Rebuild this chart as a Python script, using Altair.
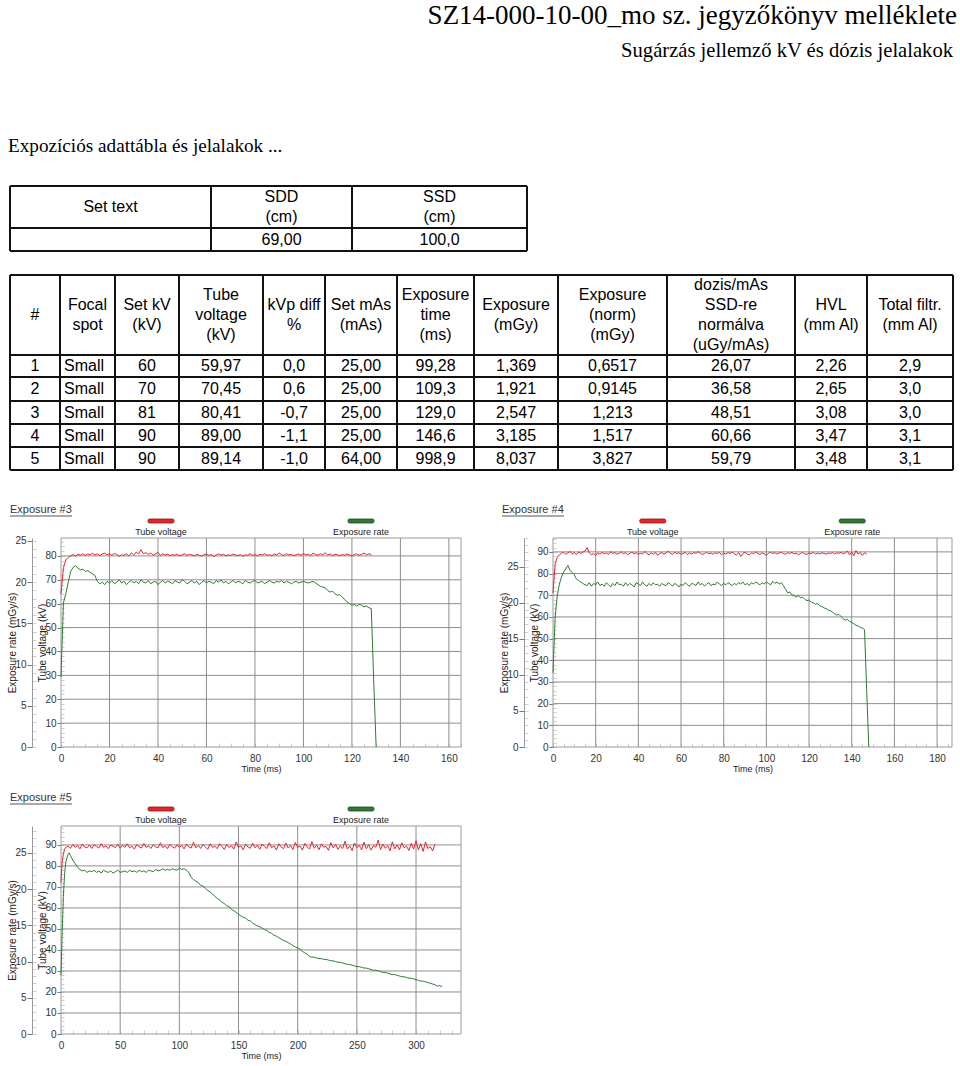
import altair as alt
import pandas as pd

# ============================ DATA ============================
DOC_TITLE = "SZ14-000-10-00_mo sz. jegyzőkönyv melléklete"
DOC_SUBTITLE = "Sugárzás jellemző kV és dózis jelalakok"
SECTION_TITLE = "Expozíciós adattábla és jelalakok ..."

# table 1
T1_HEADERS = ["Set text", "SDD\n(cm)", "SSD\n(cm)"]
T1_ROW = ["", "69,00", "100,0"]

# table 2
T2_HEADERS = ["#", "Focal\nspot", "Set kV\n(kV)", "Tube\nvoltage\n(kV)", "kVp diff\n%",
              "Set mAs\n(mAs)", "Exposure\ntime\n(ms)", "Exposure\n(mGy)",
              "Exposure\n(norm)\n(mGy)", "dozis/mAs\nSSD-re\nnormálva\n(uGy/mAs)",
              "HVL\n(mm Al)", "Total filtr.\n(mm Al)"]
NUM = ["1", "2", "3", "4", "5"]
FOCAL = ["Small", "Small", "Small", "Small", "Small"]
SET_KV = ["60", "70", "81", "90", "90"]
TUBE_KV = ["59,97", "70,45", "80,41", "89,00", "89,14"]
KVP_DIFF = ["0,0", "0,6", "-0,7", "-1,1", "-1,0"]
SET_MAS = ["25,00", "25,00", "25,00", "25,00", "64,00"]
EXP_TIME = ["99,28", "109,3", "129,0", "146,6", "998,9"]
EXPOSURE = ["1,369", "1,921", "2,547", "3,185", "8,037"]
EXP_NORM = ["0,6517", "0,9145", "1,213", "1,517", "3,827"]
DOSE_MAS = ["26,07", "36,58", "48,51", "60,66", "59,79"]
HVL = ["2,26", "2,65", "3,08", "3,47", "3,48"]
TOTAL_FILT = ["2,9", "3,0", "3,0", "3,1", "3,1"]

# exposure #3 traces (time in ms)
E3_KV_TIME = list(range(0, 129))
E3_KV = [64.0, 75.0, 78.3, 79.4, 80.0, 80.6, 79.9, 80.7, 80.3, 80.9,
         80.2, 80.8, 80.5, 81.1, 80.4, 80.9, 80.1, 80.8, 81.2, 80.5,
         80.9, 80.3, 81.0, 80.6, 79.8, 80.5, 80.2, 80.9, 80.0, 81.3,
         80.4, 81.6, 80.8, 82.6, 80.9, 81.4, 80.6, 81.2, 80.3, 80.8,
         81.5, 80.2, 80.9, 80.4, 80.7, 80.1, 80.6, 80.3, 80.8, 80.0,
         80.5, 80.9, 80.2, 80.7, 80.4, 80.1, 80.6, 80.3, 79.9, 80.5,
         80.8, 80.2, 80.6, 79.7, 80.4, 80.9, 80.3, 80.7, 80.0, 80.5,
         80.2, 80.8, 80.4, 80.1, 80.6, 79.8, 80.5, 80.3, 80.9, 80.2,
         80.6, 80.0, 80.7, 80.4, 80.9, 80.3, 80.5, 80.1, 80.8, 80.4,
         81.2, 80.6, 80.2, 80.9, 80.4, 80.7, 80.1, 80.5, 80.8, 80.3,
         81.0, 80.5, 80.7, 80.2, 81.1, 80.6, 80.3, 80.9, 80.5, 81.3,
         80.4, 80.8, 80.2, 80.7, 80.5, 80.1, 80.6, 80.3, 80.8, 80.4,
         80.0, 80.6, 80.9, 80.3, 80.7, 81.2, 80.5, 80.9, 80.6]
E3_RATE_TIME = list(range(0, 131))
E3_RATE = [8.5, 17.5, 18.6, 20.0, 21.3, 21.8, 22.0, 21.7, 21.5, 21.6,
           21.3, 21.4, 21.2, 21.0, 20.8, 20.1, 19.8, 20.0, 19.7, 20.1,
           19.9, 20.2, 19.8, 20.0, 20.3, 19.9, 20.1, 19.7, 20.0, 20.2,
           19.9, 20.1, 19.8, 20.3, 20.0, 19.9, 20.2, 19.8, 20.0, 20.1,
           19.7, 20.0, 20.2, 19.9, 20.1, 20.0, 19.8, 20.2, 20.0, 19.9,
           20.3, 20.1, 19.8, 20.0, 20.2, 19.9, 20.1, 19.7, 20.0, 20.2,
           19.9, 20.1, 20.0, 19.8, 20.2, 20.0, 20.3, 19.9, 20.1, 19.8,
           20.0, 20.2, 19.9, 20.1, 20.0, 19.8, 20.2, 20.0, 19.9, 20.1,
           20.2, 19.9, 20.0, 20.1, 19.8, 20.0, 20.2, 20.0, 19.9, 20.1,
           20.0, 20.2, 19.9, 20.1, 20.0, 19.8, 20.0, 20.1, 19.9, 20.0,
           20.1, 20.0, 19.9, 20.0, 20.1, 19.9, 19.7, 19.5, 19.4, 19.3,
           19.0, 18.8, 18.9, 18.6, 18.4, 18.5, 18.2, 17.9, 17.6, 17.4,
           17.2, 17.3, 17.1, 17.3, 17.2, 17.0, 17.1, 16.9, 16.8, 8.0,
           0.0]

# exposure #4 traces
E4_KV_TIME = list(range(0, 148))
E4_KV = [71.0, 84.5, 87.5, 88.6, 89.4, 89.8, 88.9, 89.6, 90.2, 89.1,
         89.7, 88.8, 90.0, 89.3, 89.9, 90.4, 92.0, 89.5, 88.7, 89.2,
         88.4, 89.6, 88.9, 89.8, 89.1, 89.5, 88.8, 90.1, 89.3, 89.7,
         88.9, 89.4, 90.0, 89.2, 89.6, 88.7, 89.3, 89.9, 89.1, 89.6,
         88.8, 89.4, 89.0, 90.2, 89.3, 88.6, 89.5, 88.9, 89.8, 88.4,
         89.2, 89.7, 88.9, 89.5, 90.3, 89.4, 88.8, 89.9, 89.2, 89.6,
         88.9, 89.3, 89.8, 88.7, 89.5, 89.0, 89.7, 89.3, 90.1, 89.4,
         88.8, 89.2, 89.9, 89.1, 89.5, 88.9, 89.6, 89.2, 89.8, 88.6,
         89.4, 89.0, 89.7, 89.3, 89.9, 89.1, 88.5, 89.6, 87.9, 89.3,
         89.8, 89.0, 88.7, 89.5, 89.2, 90.0, 89.3, 88.8, 89.6, 89.1,
         88.4, 89.4, 89.9, 89.2, 89.6, 89.0, 89.5, 89.8, 89.2, 88.9,
         89.6, 89.3, 89.8, 89.0, 89.4, 88.7, 89.3, 89.7, 89.1, 88.8,
         89.5, 89.2, 89.8, 89.0, 89.4, 89.1, 89.6, 89.3, 88.9, 89.5,
         89.2, 89.7, 89.0, 89.6, 89.3, 89.8, 89.1, 89.5, 90.4, 88.6,
         89.9, 88.2, 90.6, 89.0, 89.7, 88.4, 89.6, 88.9]
E4_RATE_TIME = list(range(0, 149))
E4_RATE = [10.3, 18.0, 21.0, 22.6, 23.6, 24.3, 24.7, 25.2, 24.5, 24.2,
           23.9, 23.3, 23.1, 22.9, 22.7, 22.5, 22.4, 22.8, 22.3, 22.7,
           22.5, 22.9, 22.4, 22.6, 22.3, 22.8, 22.5, 22.2, 22.7, 22.4,
           22.9, 22.5, 22.6, 22.3, 22.8, 22.4, 22.7, 22.5, 22.2, 22.8,
           22.6, 22.4, 22.9, 22.5, 22.3, 22.7, 22.4, 22.8, 22.5, 22.6,
           22.3, 22.7, 22.5, 22.4, 22.8, 22.6, 22.3, 22.7, 22.5, 22.2,
           22.6, 22.4, 22.8, 22.5, 22.3, 22.7, 22.6, 22.4, 22.9, 22.5,
           22.7, 22.3, 22.6, 22.8, 22.4, 22.6, 22.5, 22.9, 22.6, 22.4,
           22.7, 22.5, 22.8, 22.6, 22.4, 22.7, 22.5, 22.8, 22.6, 22.9,
           22.5, 22.7, 22.4, 22.8, 22.6, 22.9, 22.7, 22.5, 22.8, 22.6,
           22.9, 22.7, 22.5, 23.0, 22.7, 22.9, 22.6, 22.8, 22.4, 21.9,
           21.4, 21.5, 21.1, 21.0, 20.8, 21.0, 20.7, 20.8, 20.5, 20.3,
           20.4, 20.1, 20.0, 19.8, 19.9, 19.6, 19.5, 19.3, 19.2, 19.0,
           18.9, 18.7, 18.5, 18.3, 18.4, 18.1, 17.8, 17.6, 17.7, 17.4,
           17.3, 17.1, 16.9, 16.8, 16.6, 16.5, 16.3, 8.0, 0.0]

# exposure #5 traces
E5_KV_TIME = [0, 1, 2, 3, 4] + list(range(6, 317, 2))
E5_KV = [72.0, 82.0, 85.5, 88.0, 88.8,
         89.5, 88.4, 90.2, 88.9, 89.7, 88.1, 90.4, 89.0, 88.6, 89.9,
         88.3, 90.1, 89.2, 88.5, 90.6, 88.8, 89.6, 88.2, 90.0, 89.3,
         88.7, 90.3, 88.4, 89.8, 88.9, 90.5, 88.6, 89.4, 88.0, 90.2,
         89.1, 88.5, 90.7, 88.8, 89.5, 88.3, 90.1, 89.0, 88.6, 91.0,
         88.7, 89.6, 88.2, 90.3, 89.2, 88.4, 90.0, 88.9, 89.7, 88.1,
         90.4, 89.0, 88.5, 91.3, 88.6, 89.8, 88.3, 90.2, 89.1, 87.9,
         90.5, 88.8, 89.4, 88.2, 90.6, 89.3, 87.8, 90.1, 88.7, 89.6,
         88.0, 91.4, 88.9, 89.5, 87.7, 90.3, 89.0, 88.4, 90.8, 88.6,
         89.9, 87.9, 90.4, 89.2, 88.3, 91.0, 88.7, 89.5, 87.6, 90.6,
         89.1, 88.2, 90.9, 88.5, 89.7, 87.8, 91.2, 88.8, 89.4, 87.5,
         90.7, 89.0, 88.1, 91.6, 88.4, 89.9, 87.7, 90.5, 88.9, 89.3,
         87.4, 91.1, 88.6, 90.2, 87.9, 89.6, 88.3, 91.8, 88.0, 89.5,
         87.3, 90.9, 88.7, 89.8, 87.6, 91.3, 88.2, 90.1, 87.5, 89.7,
         88.9, 92.3, 87.8, 90.4, 88.4, 89.6, 87.2, 91.5, 88.1, 90.0,
         87.7, 91.0, 88.6, 89.4, 87.3, 90.8, 88.0, 92.0, 87.6, 90.6,
         86.9, 91.4, 88.3, 89.2, 87.1, 90.3]
E5_RATE_TIME = list(range(0, 11)) + list(range(12, 323, 2))
E5_RATE = [8.1, 14.0, 19.0, 22.0, 23.6, 24.3, 24.8, 25.0, 24.6, 24.3, 24.0,
           23.5, 23.0, 22.7, 22.5, 22.6, 22.3, 22.5, 22.4, 22.6, 22.3,
           22.5, 22.2, 22.6, 22.4, 22.3, 22.5, 22.2, 22.4, 22.6, 22.3,
           22.4, 22.5, 22.3, 22.6, 22.4, 22.5, 22.3, 22.6, 22.4, 22.5,
           22.3, 22.6, 22.5, 22.4, 22.7, 22.5, 22.6, 22.8, 22.6, 22.7,
           22.6, 22.8, 22.7, 22.6, 22.9, 22.7, 22.8, 22.6, 22.3, 21.6,
           21.3, 21.1, 20.9, 20.5, 20.4, 20.1, 19.8, 19.6, 19.3, 19.0,
           18.7, 18.5, 18.2, 18.0, 17.7, 17.6, 17.2, 17.0, 16.8, 16.5,
           16.3, 16.1, 16.0, 15.7, 15.6, 15.3, 15.1, 14.9, 14.8, 14.6,
           14.4, 14.3, 14.0, 13.9, 13.6, 13.5, 13.3, 13.1, 12.9, 12.8,
           12.6, 12.4, 12.2, 12.0, 11.9, 11.7, 11.4, 11.2, 11.0, 10.7,
           10.6, 10.6, 10.5, 10.4, 10.4, 10.3, 10.3, 10.2, 10.1, 10.1,
           10.0, 9.9, 9.9, 9.8, 9.7, 9.6, 9.6, 9.5, 9.4, 9.3,
           9.3, 9.2, 9.1, 9.1, 9.0, 8.9, 8.8, 8.8, 8.7, 8.6,
           8.5, 8.5, 8.4, 8.3, 8.2, 8.2, 8.1, 8.0, 7.9, 7.9,
           7.8, 7.7, 7.7, 7.6, 7.5, 7.4, 7.3, 7.3, 7.2, 7.1,
           7.0, 6.9, 6.8, 6.6, 6.7, 6.5]

# ============================ LAYOUT / STYLE ============================
W, H = 960, 1066
SANS = "Liberation Sans"
SERIF = "Liberation Serif"
RED = "#e3262d"
GREEN = "#2f7a32"
GRID = "#8e8e8e"
MINOR = "#cfcfcf"
TXT = "#333333"
LINE_H = 20

T1_COL_EDGES = [10, 211, 352, 527]
T1_ROW_EDGES = [186, 228, 251]
T2_COL_EDGES = [10, 60, 115, 179, 263, 325, 397, 474, 558, 667, 795, 867, 953]
T2_ROW_EDGES = [275, 355, 377, 401, 424, 447, 470]

G3 = dict(left=61, right=461, top=538, bottom=747, xmax=165, vmax=87.5, rmax=25.36,
          rate_x=32, title_x=10, title="Exposure #3", title_w=62,
          xticks=list(range(0, 161, 20)), xminor=list(range(0, 166, 5)),
          vticks=list(range(0, 81, 10)), rticks=list(range(0, 26, 5)))
G4 = dict(left=553, right=952, top=538, bottom=747, xmax=187, vmax=96.4, rmax=29.0,
          rate_x=524, title_x=502, title="Exposure #4", title_w=62,
          xticks=list(range(0, 181, 20)), xminor=list(range(0, 186, 5)),
          vticks=list(range(0, 91, 10)), rticks=list(range(0, 26, 5)))
G5 = dict(left=61, right=461, top=826, bottom=1034, xmax=338, vmax=99.0, rmax=28.7,
          rate_x=32, title_x=10, title="Exposure #5", title_w=62,
          xticks=list(range(0, 301, 50)), xminor=list(range(0, 331, 10)),
          vticks=list(range(0, 91, 10)), rticks=list(range(0, 26, 5)))

ONE = pd.DataFrame({"k": [0]})


def lin(domain, rng):
    return alt.Scale(domain=domain, range=rng, nice=False, zero=False)


def text_at(x, y, s, size, font=SANS, align="left", baseline="alphabetic", color="#000"):
    return alt.Chart(ONE).mark_text(font=font, fontSize=size, align=align,
                                    baseline=baseline, color=color).encode(
        x=alt.value(x), y=alt.value(y), text=alt.value(s))


def table_layers(col_edges, row_edges, cells, left_cells=None):
    nc, nr = len(col_edges) - 1, len(row_edges) - 1
    xs = lin(list(range(nc + 1)), col_edges)
    ys = lin(list(range(nr + 1)), row_edges)
    vl = pd.DataFrame({"c": list(range(nc + 1)), "r0": 0, "r1": nr})
    hl = pd.DataFrame({"r": list(range(nr + 1)), "c0": 0, "c1": nc})
    out = [
        alt.Chart(vl).mark_rule(color="#111", strokeWidth=2).encode(
            x=alt.X("c:Q", scale=xs, axis=None),
            y=alt.Y("r0:Q", scale=ys, axis=None), y2="r1:Q"),
        alt.Chart(hl).mark_rule(color="#111", strokeWidth=2).encode(
            y=alt.Y("r:Q", scale=ys, axis=None),
            x=alt.X("c0:Q", scale=xs, axis=None), x2="c1:Q"),
    ]
    cdf = pd.DataFrame(cells)
    cdf["n"] = cdf["s"].str.count("\n") + 1
    for n in sorted(cdf["n"].unique()):
        sub = cdf[cdf["n"] == n][["c", "r", "s"]]
        out.append(alt.Chart(sub).mark_text(
            font=SANS, fontSize=16, lineHeight=LINE_H, lineBreak="\n",
            align="center", baseline="middle", dy=-(n - 1) * LINE_H / 2,
            color="#000").encode(
            x=alt.X("c:Q", scale=xs, axis=None),
            y=alt.Y("r:Q", scale=ys, axis=None), text="s:N"))
    if left_cells:
        out.append(alt.Chart(pd.DataFrame(left_cells)).mark_text(
            font=SANS, fontSize=16, align="left", baseline="middle", dx=4,
            color="#000").encode(
            x=alt.X("c:Q", scale=xs, axis=None),
            y=alt.Y("r:Q", scale=ys, axis=None), text="s:N"))
    return out


def chart_layers(g, kv_t, kv, rate_t, rate):
    xs = lin([0, g["xmax"]], [g["left"], g["right"]])
    yv = lin([0, g["vmax"]], [g["bottom"], g["top"]])
    yr = lin([0, g["rmax"]], [g["bottom"], g["top"]])
    L = []
    hg = pd.DataFrame({"v": [v for v in g["vticks"] if v > 0], "x0": 0, "x1": g["xmax"]})
    L.append(alt.Chart(hg).mark_rule(color=GRID, strokeWidth=1).encode(
        x=alt.X("x0:Q", scale=xs, axis=None), x2="x1:Q",
        y=alt.Y("v:Q", scale=yv, axis=None)))
    vg = pd.DataFrame({"t": [t for t in g["xticks"] if t > 0], "y0": 0, "y1": g["vmax"]})
    L.append(alt.Chart(vg).mark_rule(color=GRID, strokeWidth=1).encode(
        x=alt.X("t:Q", scale=xs, axis=None),
        y=alt.Y("y0:Q", scale=yv, axis=None), y2="y1:Q"))
    fr = pd.DataFrame({"x0": [0], "x1": [g["xmax"]], "y0": [0], "y1": [g["vmax"]]})
    L.append(alt.Chart(fr).mark_rect(fillOpacity=0, stroke="#9a9a9a", strokeWidth=1).encode(
        x=alt.X("x0:Q", scale=xs, axis=None), x2="x1:Q",
        y=alt.Y("y0:Q", scale=yv, axis=None), y2="y1:Q"))
    # minor ticks (x along bottom, inside)
    mt = pd.DataFrame({"t": g["xminor"]})
    L.append(alt.Chart(mt).mark_point(opacity=0).encode(
        x=alt.X("t:Q", scale=xs, axis=alt.Axis(
            orient="top", offset=-g["bottom"], values=g["xminor"], labels=False,
            domain=False, grid=False, tickSize=4, tickColor=MINOR, title=None))))
    # minor ticks (voltage, inside left edge)
    mv = pd.DataFrame({"v": list(range(0, int(g["vmax"]) + 1, 2))})
    L.append(alt.Chart(mv).mark_point(opacity=0).encode(
        y=alt.Y("v:Q", scale=yv, axis=alt.Axis(
            orient="right", offset=g["left"] - W, values=list(mv["v"]), labels=False,
            domain=False, grid=False, tickSize=3, tickColor=MINOR, title=None))))
    # minor ticks (rate axis)
    mr = pd.DataFrame({"r": list(range(0, int(g["rmax"]) + 1))})
    L.append(alt.Chart(mr).mark_point(opacity=0).encode(
        y=alt.Y("r:Q", scale=yr, axis=alt.Axis(
            orient="right", offset=g["rate_x"] - W, values=list(mr["r"]), labels=False,
            domain=False, grid=False, tickSize=4, tickColor=MINOR, title=None))))
    # exposure rate (green)
    gd = pd.DataFrame({"t": rate_t, "r": rate})
    L.append(alt.Chart(gd).mark_line(color=GREEN, strokeWidth=1).encode(
        x=alt.X("t:Q", scale=xs, axis=None),
        y=alt.Y("r:Q", scale=yr, axis=alt.Axis(
            orient="left", offset=-g["rate_x"], values=g["rticks"], grid=False,
            tickSize=5, tickColor="#777", domain=True, domainColor="#9a9a9a",
            labelFont=SANS, labelFontSize=10, labelColor=TXT, labelPadding=1,
            title="Exposure rate (mGy/s)", titleFont=SANS, titleFontSize=10,
            titleFontWeight="normal", titleColor="#222", titleX=-20,
            titleAlign="center", titleBaseline="middle"))))
    # tube voltage (red)
    rd = pd.DataFrame({"t": kv_t, "kv": kv})
    L.append(alt.Chart(rd).mark_line(color=RED, strokeWidth=1).encode(
        x=alt.X("t:Q", scale=xs, axis=alt.Axis(
            orient="bottom", offset=g["bottom"] - H, values=g["xticks"], grid=False,
            ticks=False, domain=False, labelFlush=False, labelFont=SANS,
            labelFontSize=10, labelColor=TXT, labelPadding=6,
            title="Time (ms)", titleFont=SANS, titleFontSize=9,
            titleFontWeight="normal", titleColor="#222", titlePadding=1)),
        y=alt.Y("kv:Q", scale=yv, axis=alt.Axis(
            orient="left", offset=-g["left"], values=g["vticks"], grid=False,
            tickSize=4, tickColor="#777", domain=False, labelFont=SANS,
            labelFontSize=10, labelColor=TXT, labelPadding=1,
            title="Tube voltage (kV)", titleFont=SANS, titleFontSize=10,
            titleFontWeight="normal", titleColor="#222", titleX=-19,
            titleAlign="center", titleBaseline="middle"))))
    # legend
    for frac, col, edge, lab in [(0.25, RED, "#8a1515", "Tube voltage"),
                                 (0.75, GREEN, "#1c4d1e", "Exposure rate")]:
        cx = g["left"] + frac * (g["right"] - g["left"])
        L.append(alt.Chart(ONE).mark_rect(color=col, stroke=edge, strokeWidth=0.8,
                                          cornerRadius=1.5).encode(
            x=alt.value(cx - 13), x2=alt.value(cx + 13),
            y=alt.value(g["top"] - 19), y2=alt.value(g["top"] - 15)))
        L.append(text_at(cx, g["top"] - 6.5, lab, 9, align="center",
                         baseline="middle", color="#222"))
    # title with underline
    L.append(text_at(g["title_x"], g["top"] - 28.5, g["title"], 11,
                     baseline="middle", color=TXT))
    L.append(alt.Chart(ONE).mark_rule(color="#555", strokeWidth=1).encode(
        x=alt.value(g["title_x"]), x2=alt.value(g["title_x"] + g["title_w"]),
        y=alt.value(g["top"] - 22)))
    return L


# ---- table cell records ----
t1_cells = ([{"c": i + 0.5, "r": 0.5, "s": s} for i, s in enumerate(T1_HEADERS)]
            + [{"c": i + 0.5, "r": 1.5, "s": s} for i, s in enumerate(T1_ROW)])

t2_columns = [NUM, FOCAL, SET_KV, TUBE_KV, KVP_DIFF, SET_MAS, EXP_TIME,
              EXPOSURE, EXP_NORM, DOSE_MAS, HVL, TOTAL_FILT]
t2_cells = [{"c": i + 0.5, "r": 0.5, "s": s} for i, s in enumerate(T2_HEADERS)]
t2_left = []
for ci, col in enumerate(t2_columns):
    for ri, s in enumerate(col):
        if ci == 1:
            t2_left.append({"c": ci, "r": ri + 1.5, "s": s})
        else:
            t2_cells.append({"c": ci + 0.5, "r": ri + 1.5, "s": s})

layers = []
layers.append(text_at(957, 24, DOC_TITLE, 27, font=SERIF, align="right"))
layers.append(text_at(953, 57, DOC_SUBTITLE, 20.6, font=SERIF, align="right"))
layers.append(text_at(8, 152, SECTION_TITLE, 19.2, font=SERIF))
layers += table_layers(T1_COL_EDGES, T1_ROW_EDGES, t1_cells)
layers += table_layers(T2_COL_EDGES, T2_ROW_EDGES, t2_cells, t2_left)
layers += chart_layers(G3, E3_KV_TIME, E3_KV, E3_RATE_TIME, E3_RATE)
layers += chart_layers(G4, E4_KV_TIME, E4_KV, E4_RATE_TIME, E4_RATE)
layers += chart_layers(G5, E5_KV_TIME, E5_KV, E5_RATE_TIME, E5_RATE)

chart = alt.layer(*layers).resolve_scale(
    x="independent", y="independent"
).properties(
    width=W, height=H, padding=0, autosize=alt.AutoSizeParams(type="none"),
    background="white"
).configure_view(stroke=None)

chart.save("out.html", embed_options={"renderer": "svg", "actions": False})
